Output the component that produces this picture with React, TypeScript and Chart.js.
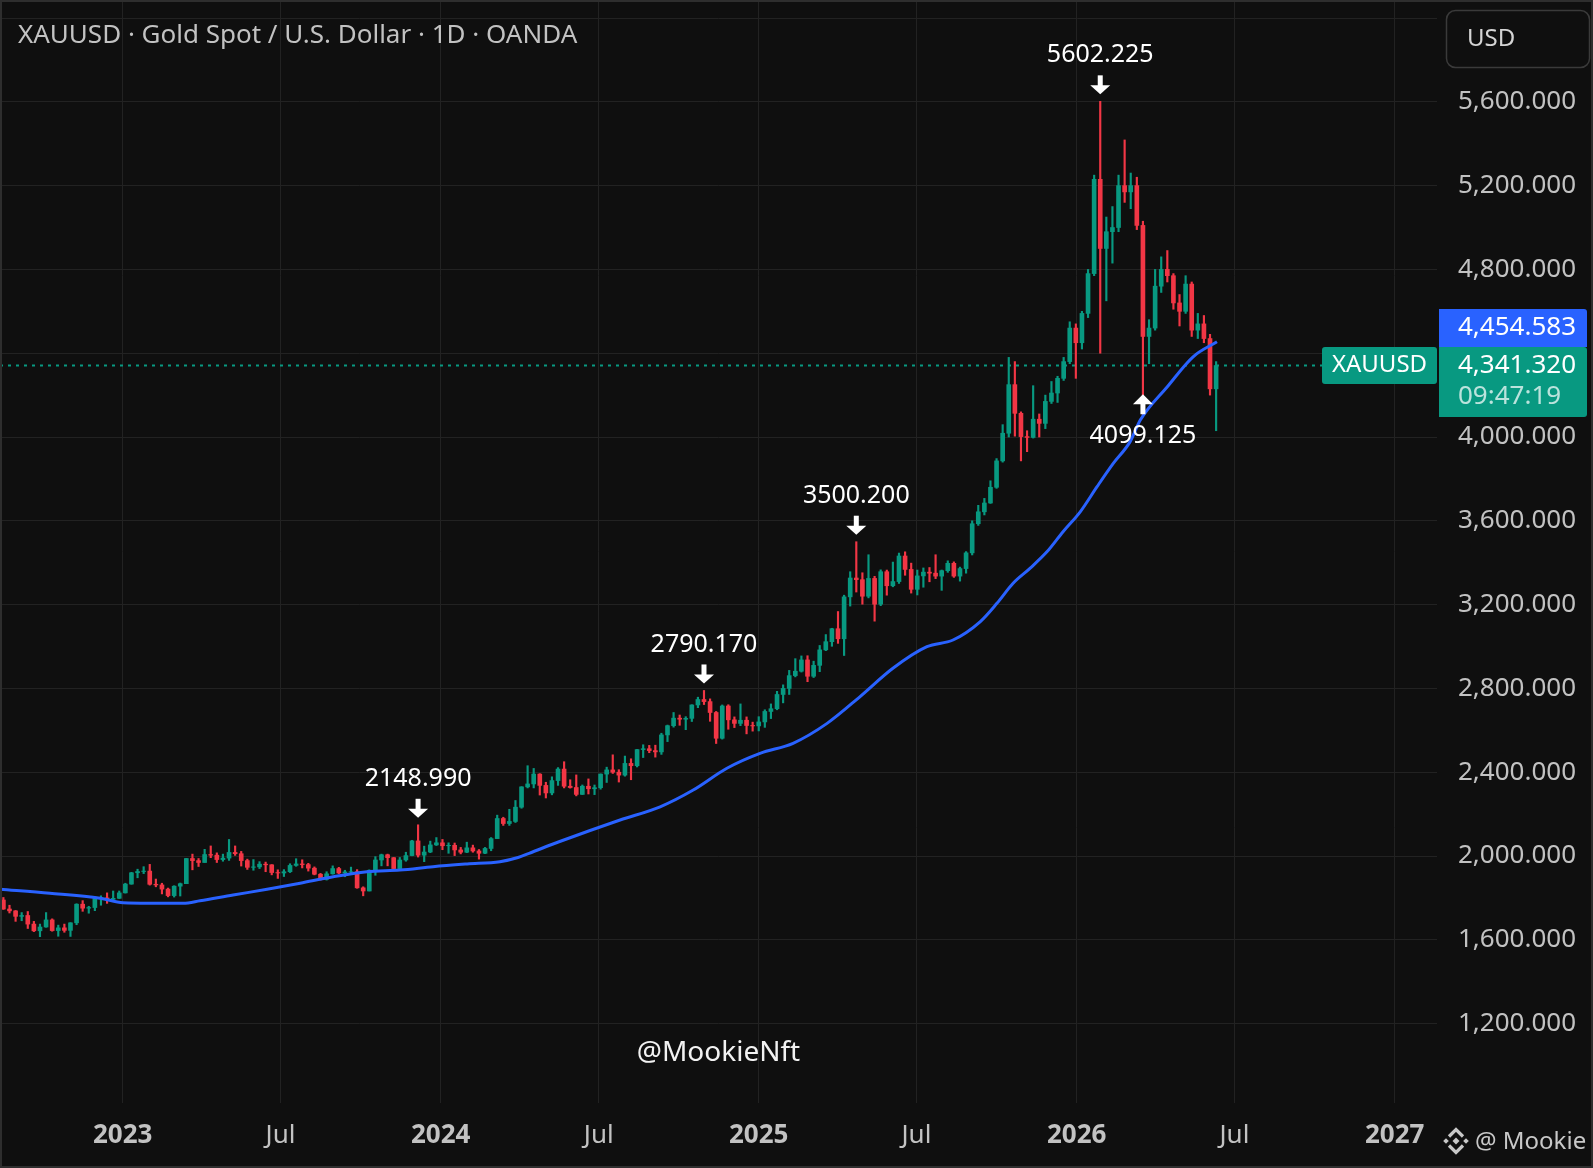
import React, { useEffect, useRef } from "react";
import { Chart, registerables } from "chart.js";

Chart.register(...registerables);

// ---------- DATA (weekly candles) ----------
const firstWeekMonday = "2022-08-15";

const opens = [
  1790, 1747, 1738, 1712, 1716, 1675, 1643, 1661, 1695, 1644,
  1657, 1645, 1681, 1770, 1751, 1754, 1797, 1800, 1793, 1798,
  1824, 1866, 1920, 1926, 1928, 1865, 1862, 1842, 1811, 1856,
  1868, 1988, 1978, 1969, 2007, 2004, 1983, 1990, 2017, 2011,
  1978, 1946, 1948, 1961, 1958, 1921, 1919, 1925, 1955, 1962,
  1959, 1942, 1913, 1889, 1915, 1940, 1919, 1924, 1925, 1848,
  1833, 1932, 1981, 2006, 1992, 1940, 1981, 2002, 2072, 2004,
  2019, 2053, 2063, 2049, 2051, 2029, 2018, 2039, 2024, 2013,
  2036, 2083, 2179, 2155, 2165, 2233, 2330, 2344, 2391, 2337,
  2301, 2360, 2415, 2333, 2327, 2294, 2333, 2321, 2326, 2391,
  2411, 2400, 2386, 2442, 2431, 2508, 2512, 2503, 2497, 2578,
  2622, 2658, 2653, 2657, 2721, 2747, 2737, 2685, 2562, 2716,
  2650, 2633, 2648, 2623, 2621, 2640, 2690, 2703, 2771, 2800,
  2861, 2882, 2936, 2858, 2910, 2984, 3023, 3085, 3037, 3237,
  3327, 3319, 3240, 3325, 3202, 3357, 3290, 3310, 3432, 3368,
  3273, 3337, 3355, 3350, 3336, 3362, 3397, 3336, 3372, 3447,
  3586, 3643, 3685, 3760, 3886, 4018, 4250, 4113, 4002, 3998,
  4085, 4065, 4170, 4210, 4280, 4360, 4520, 4450, 4590, 4780,
  5230, 4900, 4980, 5000, 5200, 5170, 5200, 5010, 4480, 4520,
  4720, 4800, 4770, 4640, 4600, 4730, 4510, 4540, 4470, 4230,
];

const highs = [
  1802, 1765, 1740, 1730, 1735, 1688, 1675, 1730, 1700, 1670,
  1675, 1682, 1772, 1787, 1760, 1804, 1810, 1824, 1833, 1833,
  1870, 1922, 1937, 1949, 1960, 1890, 1870, 1847, 1858, 1871,
  1989, 2009, 1988, 2032, 2048, 2015, 2009, 2079, 2048, 2022,
  1985, 1983, 1973, 1971, 1959, 1934, 1935, 1963, 1987, 1982,
  1965, 1948, 1917, 1925, 1953, 1946, 1932, 1947, 1935, 1853,
  1934, 1997, 2009, 2009, 1993, 1993, 2018, 2075, 2148.99, 2047,
  2071, 2088, 2079, 2063, 2062, 2041, 2066, 2052, 2031, 2041,
  2088, 2195, 2185, 2223, 2265, 2331, 2431, 2418, 2393, 2352,
  2378, 2422, 2450, 2364, 2387, 2339, 2368, 2339, 2392, 2424,
  2483, 2412, 2477, 2464, 2509, 2531, 2528, 2529, 2586, 2625,
  2685, 2673, 2665, 2722, 2758, 2790.17, 2750, 2690, 2721, 2722,
  2664, 2726, 2664, 2639, 2665, 2698, 2726, 2786, 2817, 2886,
  2942, 2955, 2956, 2930, 3005, 3057, 3087, 3167, 3245, 3357,
  3500.2, 3352, 3438, 3335, 3366, 3365, 3403, 3446, 3452, 3398,
  3365, 3375, 3377, 3438, 3365, 3409, 3404, 3379, 3453, 3600,
  3674, 3707, 3791, 3897, 4059, 4380, 4360, 4120, 4030, 4245,
  4110, 4200, 4265, 4290, 4380, 4550, 4540, 4600, 4800, 5250,
  5602.225, 5050, 5100, 5250, 5418, 5260, 5240, 5030, 4560, 4800,
  4860, 4890, 4780, 4680, 4770, 4740, 4590, 4580, 4490, 4360,
];

const lows = [
  1745, 1728, 1688, 1691, 1654, 1639, 1615, 1660, 1641, 1617,
  1636, 1616, 1672, 1736, 1727, 1739, 1765, 1774, 1784, 1797,
  1823, 1865, 1896, 1916, 1861, 1853, 1819, 1805, 1804, 1809,
  1868, 1934, 1950, 1969, 1992, 1969, 1975, 1979, 2003, 1952,
  1936, 1932, 1940, 1925, 1910, 1893, 1902, 1921, 1951, 1943,
  1928, 1910, 1885, 1885, 1913, 1915, 1901, 1915, 1846, 1810,
  1833, 1908, 1953, 1953, 1937, 1932, 1975, 2001, 1995, 1973,
  2016, 2050, 2030, 2013, 2002, 2010, 2016, 2018, 1985, 2011,
  2025, 2083, 2146, 2146, 2160, 2228, 2325, 2325, 2291, 2277,
  2292, 2337, 2325, 2324, 2287, 2293, 2296, 2293, 2319, 2351,
  2394, 2353, 2381, 2364, 2425, 2470, 2493, 2472, 2485, 2546,
  2615, 2624, 2603, 2642, 2708, 2723, 2643, 2537, 2558, 2605,
  2613, 2622, 2583, 2596, 2597, 2614, 2656, 2698, 2731, 2771,
  2855, 2878, 2832, 2852, 2880, 2980, 3001, 3015, 2957, 3193,
  3260, 3202, 3232, 3121, 3195, 3245, 3285, 3301, 3340, 3255,
  3246, 3283, 3309, 3324, 3268, 3354, 3330, 3312, 3350, 3437,
  3578, 3628, 3683, 3755, 3880, 4000, 4004, 3886, 3930, 3995,
  4000, 4040, 4160, 4165, 4270, 4350, 4280, 4420, 4570, 4770,
  4400, 4650, 4830, 4980, 5120, 5090, 4990, 4099.125, 4350, 4510,
  4690, 4740, 4610, 4530, 4590, 4480, 4470, 4450, 4200, 4030,
];

const closes = [
  1747, 1738, 1712, 1716, 1675, 1643, 1661, 1695, 1644, 1657,
  1645, 1681, 1770, 1751, 1754, 1797, 1800, 1793, 1798, 1824,
  1866, 1920, 1926, 1928, 1865, 1862, 1842, 1811, 1856, 1868,
  1988, 1978, 1969, 2007, 2004, 1983, 1990, 2017, 2011, 1978,
  1946, 1948, 1961, 1958, 1921, 1919, 1925, 1955, 1962, 1959,
  1942, 1913, 1889, 1915, 1940, 1919, 1924, 1925, 1848, 1833,
  1932, 1981, 2006, 1992, 1940, 1981, 2002, 2072, 2004, 2019,
  2053, 2063, 2049, 2051, 2029, 2018, 2039, 2024, 2013, 2036,
  2083, 2179, 2155, 2165, 2233, 2330, 2344, 2391, 2337, 2301,
  2360, 2415, 2333, 2327, 2294, 2333, 2321, 2326, 2391, 2411,
  2400, 2386, 2442, 2431, 2508, 2512, 2503, 2497, 2578, 2622,
  2658, 2653, 2657, 2721, 2747, 2737, 2685, 2562, 2716, 2650,
  2633, 2648, 2623, 2621, 2640, 2690, 2703, 2771, 2800, 2861,
  2882, 2936, 2858, 2910, 2984, 3023, 3085, 3037, 3237, 3327,
  3319, 3240, 3325, 3202, 3357, 3290, 3310, 3432, 3368, 3273,
  3337, 3355, 3350, 3336, 3362, 3397, 3336, 3372, 3447, 3586,
  3643, 3685, 3760, 3886, 4018, 4250, 4113, 4002, 3998, 4085,
  4065, 4170, 4210, 4280, 4360, 4520, 4450, 4590, 4780, 5230,
  4900, 4980, 5000, 5200, 5170, 5200, 5010, 4480, 4520, 4720,
  4800, 4770, 4640, 4600, 4730, 4510, 4540, 4470, 4230, 4341.32,
];

// Moving average (blue line) read at points along the picture
const maYears = [
  2022.614, 2022.771, 2022.929, 2023.001, 2023.19, 2023.243, 2023.347, 2023.454,
  2023.558, 2023.662, 2023.768, 2023.872, 2023.976, 2024.083, 2024.186, 2024.243,
  2024.278, 2024.372, 2024.564, 2024.69, 2024.794, 2024.9, 2025.004, 2025.108,
  2025.215, 2025.318, 2025.422, 2025.529, 2025.611, 2025.696, 2025.749, 2025.8,
  2025.853, 2025.907, 2025.957, 2026.011, 2026.064, 2026.115, 2026.168, 2026.2,
  2026.285, 2026.366, 2026.441,
];
const maValues = [
  1841, 1822, 1798, 1777, 1774, 1786, 1814, 1841,
  1870, 1901, 1925, 1933, 1949, 1962, 1973, 1993,
  2013, 2068, 2172, 2235, 2315, 2419, 2490, 2538,
  2633, 2760, 2896, 2999, 3031, 3118, 3206, 3302,
  3373, 3453, 3548, 3643, 3763, 3874, 3978, 4081,
  4240, 4383, 4454.583,
];

const xTickValues = [2023, 2023.496, 2024, 2024.497, 2025, 2025.496, 2026, 2026.496, 2027];
const xTickLabels = ["2023", "Jul", "2024", "Jul", "2025", "Jul", "2026", "Jul", "2027"];
const yTickValues = [1200, 1600, 2000, 2400, 2800, 3200, 3600, 4000, 4400, 4800, 5200, 5600, 6000];
const hiddenPriceTicks = [6000, 4400];

const markedHighs = [2148.99, 2790.17, 3500.2, 5602.225];
const markedLows = [4099.125];

const titleText = "XAUUSD · Gold Spot / U.S. Dollar · 1D · OANDA";
const symbolTag = "XAUUSD";
const countdownText = "09:47:19";
const currencyText = "USD";
const watermarkText = "@MookieNft";
const brandText = "@ Mookie";

// ---------- STYLE ----------
const FONT = '"Noto Sans", sans-serif';
const BG = "#0f0f0f";
const GRID = "#222222";
const TEXT = "#c2c2c2";
const UP = "#089981";
const DOWN = "#f23645";
const MA_COLOR = "#2962ff";
const W = 1593;
const H = 1168;

const fmt = (v: number) =>
  v.toLocaleString("en-US", { minimumFractionDigits: 3, maximumFractionDigits: 3 });

const dayMs = 86400000;
const startMs = Date.parse(firstWeekMonday + "T00:00:00Z");
const weekYears = opens.map((_, i) => {
  const d = new Date(startMs + (7 * i + 2) * dayMs);
  const y = d.getUTCFullYear();
  const s = Date.UTC(y, 0, 1);
  const e = Date.UTC(y + 1, 0, 1);
  return y + (d.getTime() - s) / (e - s);
});

function roundRect(ctx: CanvasRenderingContext2D, x: number, y: number, w: number, h: number, r: number[] | number) {
  ctx.beginPath();
  (ctx as any).roundRect(x, y, w, h, r);
}

const decorPlugin = {
  id: "decor",
  beforeDraw(chart: any) {
    const { ctx } = chart;
    ctx.save();
    ctx.fillStyle = BG;
    ctx.fillRect(0, 0, chart.width, chart.height);
    ctx.restore();
  },
  beforeDatasetsDraw(chart: any) {
    const { ctx, chartArea, scales } = chart;
    const y = scales.y.getPixelForValue(closes[closes.length - 1]);
    ctx.save();
    ctx.strokeStyle = UP;
    ctx.lineWidth = 2;
    ctx.setLineDash([3, 5]);
    ctx.beginPath();
    ctx.moveTo(chartArea.left, y);
    ctx.lineTo(chartArea.right - 115, y);
    ctx.stroke();
    ctx.restore();
  },
  afterDraw(chart: any) {
    const { ctx, chartArea, scales } = chart;
    const xs = scales.x;
    const ys = scales.y;
    ctx.save();

    // title
    ctx.font = `26px ${FONT}`;
    ctx.fillStyle = TEXT;
    ctx.textBaseline = "middle";
    ctx.textAlign = "left";
    ctx.fillText(titleText, 18, 36);

    // watermark
    ctx.font = `28px ${FONT}`;
    ctx.fillStyle = "#f2f2f2";
    ctx.textAlign = "center";
    ctx.fillText(watermarkText, (chartArea.left + chartArea.right) / 2, 1053);

    // high / low markers
    ctx.fillStyle = "#ffffff";
    ctx.font = `25px ${FONT}`;
    markedHighs.forEach((v) => {
      const i = highs.indexOf(v);
      if (i < 0) return;
      const x = xs.getPixelForValue(weekYears[i]);
      const y = ys.getPixelForValue(v);
      ctx.fillRect(x - 2.5, y - 26, 5, 11);
      ctx.beginPath();
      ctx.moveTo(x - 10, y - 16);
      ctx.lineTo(x + 10, y - 16);
      ctx.lineTo(x, y - 7);
      ctx.closePath();
      ctx.fill();
      ctx.textAlign = "center";
      ctx.fillText(v.toFixed(3), x, y - 46);
    });
    markedLows.forEach((v) => {
      const i = lows.indexOf(v);
      if (i < 0) return;
      const x = xs.getPixelForValue(weekYears[i]);
      const y = ys.getPixelForValue(v);
      ctx.beginPath();
      ctx.moveTo(x - 10, y - 12);
      ctx.lineTo(x + 10, y - 12);
      ctx.lineTo(x, y - 22);
      ctx.closePath();
      ctx.fill();
      ctx.fillRect(x - 2.5, y - 13, 5, 11);
      ctx.textAlign = "center";
      ctx.fillText(v.toFixed(3), x, y + 20);
    });

    // price labels
    const last = closes[closes.length - 1];
    const maLast = maValues[maValues.length - 1];
    const yP = ys.getPixelForValue(last);
    const boxL = chartArea.right + 2;
    const boxW = 148;
    const gTop = yP - 18.5;
    // symbol tag
    ctx.fillStyle = UP;
    roundRect(ctx, chartArea.right - 115, gTop, 115, 37, 3);
    ctx.fill();
    ctx.fillStyle = "#ffffff";
    ctx.font = `24px ${FONT}`;
    ctx.textAlign = "center";
    ctx.fillText(symbolTag, chartArea.right - 57.5, yP);
    // green box
    ctx.fillStyle = UP;
    roundRect(ctx, boxL, gTop, boxW, 70, [0, 3, 3, 0]);
    ctx.fill();
    // blue box
    ctx.fillStyle = MA_COLOR;
    roundRect(ctx, boxL, gTop - 38, boxW, 38, [0, 3, 0, 0]);
    ctx.fill();
    ctx.font = `26px ${FONT}`;
    ctx.textAlign = "left";
    ctx.fillStyle = "#ffffff";
    ctx.fillText(fmt(maLast), boxL + 19, gTop - 19);
    ctx.fillText(fmt(last), boxL + 19, yP);
    ctx.fillStyle = "rgba(255,255,255,0.72)";
    ctx.fillText(countdownText, boxL + 19, yP + 31);

    // currency box
    ctx.strokeStyle = "#3a3a3a";
    ctx.lineWidth = 1.5;
    roundRect(ctx, 1446.5, 10.5, 143, 57, 9);
    ctx.stroke();
    ctx.fillStyle = "#d4d4d4";
    ctx.font = `24px ${FONT}`;
    ctx.fillText(currencyText, 1467, 39);

    // brand logo + text
    const cx = 1456, cy = 1141;
    ctx.fillStyle = "#c8c8c8";
    const diamond = (x: number, y: number, r: number) => {
      ctx.beginPath();
      ctx.moveTo(x, y - r);
      ctx.lineTo(x + r, y);
      ctx.lineTo(x, y + r);
      ctx.lineTo(x - r, y);
      ctx.closePath();
      ctx.fill();
    };
    diamond(cx, cy, 3.5);
    diamond(cx - 10, cy, 2.8);
    diamond(cx + 10, cy, 2.8);
    ctx.strokeStyle = "#c8c8c8";
    ctx.lineWidth = 3.2;
    ctx.beginPath();
    ctx.moveTo(cx - 7, cy - 4.5);
    ctx.lineTo(cx, cy - 11.5);
    ctx.lineTo(cx + 7, cy - 4.5);
    ctx.moveTo(cx - 7, cy + 4.5);
    ctx.lineTo(cx, cy + 11.5);
    ctx.lineTo(cx + 7, cy + 4.5);
    ctx.stroke();
    ctx.font = `24px ${FONT}`;
    ctx.textAlign = "left";
    ctx.fillText(brandText, 1475, 1142);

    // outer frame
    ctx.strokeStyle = "#2e2e2e";
    ctx.lineWidth = 2;
    ctx.strokeRect(1, 1, W - 2, H - 2);
    ctx.restore();
  },
};

export default function App() {
  const ref = useRef<HTMLCanvasElement>(null);
  useEffect(() => {
    document.body.style.margin = "0";
    document.body.style.background = BG;
    const upDown = closes.map((c, i) => (c >= opens[i] ? UP : DOWN));
    const chart = new Chart(ref.current as HTMLCanvasElement, {
      type: "bar",
      data: {
        datasets: [
          {
            type: "line",
            label: "MA",
            data: maYears.map((t, i) => ({ x: t, y: maValues[i] })),
            borderColor: MA_COLOR,
            borderWidth: 3,
            pointRadius: 0,
            cubicInterpolationMode: "monotone",
            order: 0,
          } as any,
          {
            label: "wick",
            data: weekYears.map((t, i) => ({ x: t, y: [lows[i], highs[i]] })),
            backgroundColor: upDown,
            barThickness: 1.5,
            grouped: false,
            order: 2,
          } as any,
          {
            label: "body",
            data: weekYears.map((t, i) => ({
              x: t,
              y: [Math.min(opens[i], closes[i]), Math.max(opens[i], closes[i])],
            })),
            backgroundColor: upDown,
            barThickness: 4,
            grouped: false,
            order: 1,
          } as any,
        ],
      },
      options: {
        animation: false,
        responsive: false,
        devicePixelRatio: 1,
        events: [],
        layout: { padding: 0 },
        plugins: { legend: { display: false }, tooltip: { enabled: false }, title: { display: false } },
        scales: {
          x: {
            type: "linear",
            min: 2022.614,
            max: 2027.133,
            offset: false,
            grid: { color: GRID, lineWidth: 1, drawTicks: false, offset: false },
            border: { display: false },
            afterBuildTicks: (s: any) => {
              s.ticks = xTickValues.map((v) => ({ value: v }));
            },
            afterFit: (s: any) => {
              s.height = H - 1103;
              s.paddingLeft = 0;
              s.paddingRight = 0;
            },
            ticks: {
              autoSkip: false,
              maxRotation: 0,
              padding: 17,
              color: TEXT,
              callback: (_v: any, i: number) => xTickLabels[i],
              font: (c: any) => ({
                family: FONT,
                size: 26,
                weight: /^\d/.test(xTickLabels[c.index] || "") ? "bold" : "normal",
              }),
            },
          } as any,
          y: {
            type: "linear",
            position: "right",
            min: 821,
            max: 6086,
            grid: { color: GRID, lineWidth: 1, drawTicks: false },
            border: { display: false },
            afterBuildTicks: (s: any) => {
              s.ticks = yTickValues.map((v) => ({ value: v }));
            },
            afterFit: (s: any) => {
              s.width = W - 1437;
              s.paddingTop = 0;
              s.paddingBottom = 0;
            },
            ticks: {
              autoSkip: false,
              padding: 21,
              color: TEXT,
              font: { family: FONT, size: 26 },
              callback: (v: any) => (hiddenPriceTicks.includes(Number(v)) ? "" : fmt(Number(v))),
            },
          } as any,
        },
      },
      plugins: [decorPlugin],
    });
    return () => chart.destroy();
  }, []);
  return (
    <canvas
      ref={ref}
      width={W}
      height={H}
      style={{ display: "block", width: W, height: H }}
    />
  );
}
